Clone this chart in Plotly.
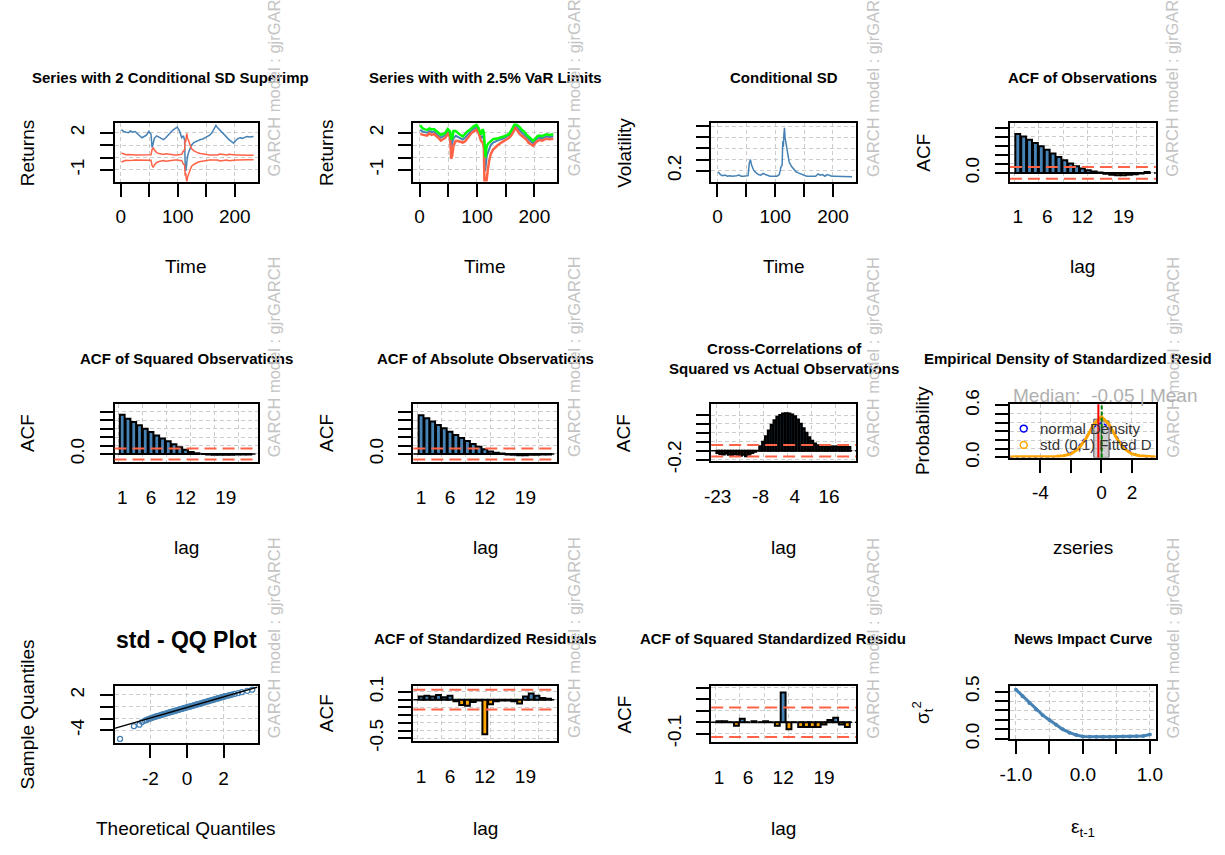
import plotly.graph_objects as go

# ======================= DATA =======================
time_idx = [1, 5, 9, 13, 17, 21, 25, 29, 33, 37,
            41, 45, 49, 53, 55, 57, 59, 63, 67, 71,
            75, 79, 83, 87, 91, 95, 99, 103, 107, 110,
            112, 113, 114, 115, 116, 117, 119, 121, 124, 128,
            132, 136, 140, 144, 148, 152, 156, 160, 164, 167,
            170, 174, 178, 182, 186, 190, 194, 198, 202, 206,
            210, 214, 218, 222, 226, 230, 233]
returns = [2.25, 2.1, 2.05, 2.0, 2.15, 2.05, 2.1, 1.95, 1.8, 1.6,
           1.7, 1.8, 2.1, 1.9, 0.8, 1.1, 1.55, 1.75, 1.65, 1.55,
           1.45, 1.6, 1.85, 2.0, 2.2, 2.35, 2.45, 2.15, 1.6, 1.75,
           1.4, -0.6, -1.1, -0.8, -0.2, 0.1, 0.4, 0.7, 1.0, 1.2,
           1.3, 1.35, 1.45, 1.5, 1.6, 1.7, 1.8, 2.0, 2.3, 2.6,
           2.4, 2.2, 2.0, 1.85, 1.65, 1.45, 1.3, 1.15, 1.4, 1.55,
           1.6, 1.55, 1.65, 1.7, 1.65, 1.7, 1.7]
sd2_upper = [0.36, 0.26, 0.22, 0.24, 0.2, 0.22, 0.2, 0.2, 0.22, 0.24,
             0.2, 0.2, 0.2, 0.22, 0.66, 0.8, 0.6, 0.4, 0.32, 0.26,
             0.24, 0.3, 0.26, 0.22, 0.2, 0.2, 0.2, 0.2, 0.26, 0.54,
             0.6, 1.46, 1.26, 1.7, 1.94, 1.6, 1.36, 1.0, 0.72, 0.56,
             0.44, 0.36, 0.32, 0.28, 0.24, 0.22, 0.2, 0.2, 0.2, 0.22,
             0.2, 0.28, 0.24, 0.26, 0.2, 0.26, 0.22, 0.2, 0.2, 0.2,
             0.18, 0.18, 0.18, 0.18, 0.18, 0.18, 0.18]
sd2_lower = [-0.36, -0.26, -0.22, -0.24, -0.2, -0.22, -0.2, -0.2, -0.22, -0.24,
             -0.2, -0.2, -0.2, -0.22, -0.66, -0.8, -0.6, -0.4, -0.32, -0.26,
             -0.24, -0.3, -0.26, -0.22, -0.2, -0.2, -0.2, -0.2, -0.26, -0.54,
             -0.6, -1.46, -1.26, -1.7, -1.94, -1.6, -1.36, -1.0, -0.72, -0.56,
             -0.44, -0.36, -0.32, -0.28, -0.24, -0.22, -0.2, -0.2, -0.2, -0.22,
             -0.2, -0.28, -0.24, -0.26, -0.2, -0.26, -0.22, -0.2, -0.2, -0.2,
             -0.18, -0.18, -0.18, -0.18, -0.18, -0.18, -0.18]
var_upper = [2.6, 2.36, 2.27, 2.24, 2.35, 2.27, 2.3, 2.15, 2.02, 1.84,
             1.9, 2.0, 2.3, 2.12, 1.46, 1.6, 2.15, 2.15, 1.97, 1.81,
             1.69, 1.9, 2.11, 2.22, 2.4, 2.55, 2.65, 2.35, 1.86, 2.29,
             2.0, 0.9, 0.1, 0.0, 0.6, 0.9, 1.1, 1.2, 1.35, 1.48,
             1.52, 1.53, 1.61, 1.64, 1.72, 1.81, 1.9, 2.2, 2.5, 2.82,
             2.6, 2.48, 2.24, 2.11, 1.85, 1.71, 1.52, 1.35, 1.6, 1.75,
             1.78, 1.73, 1.83, 1.88, 1.83, 1.88, 1.88]
var_lower = [1.89, 1.84, 1.83, 1.76, 1.95, 1.83, 1.9, 1.75, 1.58, 1.36,
             1.5, 1.6, 1.9, 1.68, -0.1, 0.2, 0.95, 1.35, 1.33, 1.29,
             1.21, 1.3, 1.59, 1.78, 2.0, 2.15, 2.25, 1.95, 1.34, 1.21,
             0.8, -2.1, -2.4, -2.5, -2.1, -1.5, -0.96, -0.3, 0.28, 0.64,
             0.86, 0.99, 1.13, 1.22, 1.36, 1.48, 1.6, 1.8, 2.1, 2.38,
             2.2, 1.92, 1.76, 1.59, 1.45, 1.19, 1.08, 0.95, 1.2, 1.35,
             1.42, 1.37, 1.47, 1.52, 1.47, 1.52, 1.52]
cond_sd = [0.18, 0.13, 0.11, 0.12, 0.1, 0.11, 0.1, 0.1, 0.11, 0.12,
           0.1, 0.1, 0.1, 0.11, 0.33, 0.4, 0.3, 0.2, 0.16, 0.13,
           0.12, 0.15, 0.13, 0.11, 0.1, 0.1, 0.1, 0.1, 0.13, 0.27,
           0.3, 0.73, 0.63, 0.85, 0.97, 0.8, 0.68, 0.5, 0.36, 0.28,
           0.22, 0.18, 0.16, 0.14, 0.12, 0.11, 0.1, 0.1, 0.1, 0.11,
           0.1, 0.14, 0.12, 0.13, 0.1, 0.13, 0.11, 0.1, 0.1, 0.1,
           0.09, 0.09, 0.09, 0.09, 0.09, 0.09, 0.09]

acf_lags = list(range(1, 24))
acf_obs = [0.86, 0.80, 0.73, 0.66, 0.59, 0.51, 0.43, 0.35, 0.28, 0.21, 0.15, 0.10,
           0.06, 0.03, 0.01, -0.02, -0.04, -0.05, -0.05, -0.04, -0.03, -0.01, 0.02]
acf_sq = [0.93, 0.84, 0.76, 0.68, 0.60, 0.52, 0.44, 0.37, 0.30, 0.23, 0.16, 0.10,
          0.05, 0.02, 0.0, -0.01, -0.02, -0.02, -0.02, -0.02, -0.01, -0.01, -0.01]
acf_abs = [0.92, 0.85, 0.77, 0.69, 0.61, 0.53, 0.45, 0.38, 0.31, 0.24, 0.17, 0.11,
           0.06, 0.03, 0.01, -0.01, -0.02, -0.03, -0.03, -0.02, -0.02, -0.01, -0.01]
ccf_lags = list(range(-23, 24))
ccf_sq_actual = [-0.05, -0.07, -0.08, -0.06, -0.09, -0.10, -0.07, -0.09, -0.11, -0.09,
                 -0.12, -0.08, -0.05, -0.02, 0.0, 0.1, 0.2, 0.32, 0.45, 0.58,
                 0.68, 0.76, 0.80, 0.83, 0.84, 0.83, 0.81, 0.77, 0.70, 0.60,
                 0.50, 0.40, 0.30, 0.22, 0.16, 0.12, 0.10, 0.10, 0.10, 0.09,
                 0.09, 0.09, 0.09, 0.08, 0.08, 0.08, 0.08]
acf_std_resid = [0.04, 0.05, 0.04, 0.06, 0.03, 0.05, -0.02, -0.07, -0.08, -0.03, -0.01, -0.45,
                 -0.06, -0.02, -0.01, -0.01, -0.02, -0.05, 0.04, 0.08, 0.05, 0.02, 0.01]
acf_sq_std_resid = [0.01, 0.01, 0.0, -0.03, 0.03, 0.0, 0.01, 0.0, 0.01, 0.0, -0.03, 0.26,
                    -0.06, 0.0, -0.04, -0.04, -0.04, -0.04, -0.02, 0.02, 0.04, -0.02, -0.04]
conf_limit = 0.129

dens_x = [-6.0, -3.0, -2.5, -2.0, -1.5, -1.0, -0.5, 0.0, 0.5, 1.0, 1.5, 2.0, 2.5, 3.0, 3.57]
normal_density = [0.0, 0.004, 0.018, 0.054, 0.13, 0.24, 0.35, 0.40, 0.35, 0.24, 0.13, 0.054, 0.018, 0.004, 0.001]
std_fitted_density = [0.006, 0.01, 0.02, 0.04, 0.10, 0.22, 0.38, 0.47, 0.38, 0.22, 0.10, 0.04, 0.02, 0.01, 0.006]
hist_mid = [-0.25, 0.25]
hist_density = [0.44, 0.42]
red_vline_x = -0.2
green_vline_x = 0.02

qq_theoretical = [-3.66, -2.9, -2.6, -2.45, -2.3, -2.2, -2.1, -2.0, -1.9, -1.8,
                  -1.72, -1.64, -1.56, -1.48, -1.4, -1.32, -1.24, -1.16, -1.08, -1.0,
                  -0.93, -0.86, -0.79, -0.72, -0.65, -0.58, -0.51, -0.44, -0.37, -0.3,
                  -0.23, -0.16, -0.09, -0.02, 0.05, 0.12, 0.19, 0.26, 0.33, 0.4,
                  0.47, 0.54, 0.61, 0.68, 0.75, 0.82, 0.89, 0.96, 1.04, 1.12,
                  1.2, 1.28, 1.36, 1.44, 1.52, 1.6, 1.68, 1.76, 1.84, 1.92,
                  2.0, 2.1, 2.2, 2.32, 2.45, 2.6, 2.8, 3.0, 3.3, 3.57]
qq_sample = [-5.46, -3.3, -3.05, -2.6, -2.35, -2.25, -2.1, -1.98, -1.88, -1.76,
             -1.7, -1.6, -1.55, -1.46, -1.4, -1.3, -1.24, -1.16, -1.08, -1.02,
             -0.95, -0.88, -0.82, -0.76, -0.7, -0.63, -0.57, -0.5, -0.44, -0.38,
             -0.31, -0.25, -0.19, -0.13, -0.06, 0.0, 0.06, 0.12, 0.19, 0.25,
             0.31, 0.38, 0.44, 0.5, 0.57, 0.63, 0.69, 0.76, 0.83, 0.9,
             0.97, 1.05, 1.12, 1.19, 1.26, 1.33, 1.41, 1.48, 1.55, 1.62,
             1.7, 1.78, 1.86, 1.95, 2.05, 2.18, 2.32, 2.48, 2.7, 2.9]
qq_line_x = [-3.96, 3.86]
qq_line_y = [-3.67, 3.33]

nic_eps = [-1.0, -0.9, -0.8, -0.7, -0.6, -0.5, -0.4, -0.3, -0.2, -0.1, 0.0,
           0.1, 0.2, 0.3, 0.4, 0.5, 0.6, 0.7, 0.8, 0.9, 1.0]
nic_sigma2 = [0.52, 0.45, 0.38, 0.31, 0.25, 0.20, 0.15, 0.10, 0.065, 0.04, 0.025,
              0.022, 0.022, 0.022, 0.022, 0.023, 0.024, 0.025, 0.027, 0.03, 0.045]

# tick values / labels
time_ticks = [0, 50, 100, 150, 200]
time_ticktext = ["0", "", "100", "", "200"]
ret_ticks = [-1, 0, 1, 2]
ret_ticktext = ["-1", "", "", "2"]
vol_ticks = [0.2, 0.4, 0.6, 0.8, 1.0]
vol_ticktext = ["0.2", "", "", "", ""]
lag_ticks = [1, 6, 12, 19]
lag_ticktext = ["1", "6", "12", "19"]
acf_ticks = [0.0, 0.2, 0.4, 0.6, 0.8, 1.0]
acf_ticktext = ["0.0", "", "", "", "", ""]
ccf_lag_ticks = [-23, -8, 4, 16]
ccf_lag_ticktext = ["-23", "-8", "4", "16"]
ccf_ticks = [-0.2, 0.0, 0.2, 0.4, 0.6, 0.8]
ccf_ticktext = ["-0.2", "", "", "", "", ""]
z_ticks = [-4, -2, 0, 2]
z_ticktext = ["-4", "", "0", "2"]
prob_ticks = [0.0, 0.1, 0.2, 0.3, 0.4, 0.5, 0.6]
prob_ticktext = ["0.0", "", "", "", "", "", "0.6"]
qqx_ticks = [-2, 0, 2]
qqx_ticktext = ["-2", "0", "2"]
qqy_ticks = [-4, -2, 0, 2]
qqy_ticktext = ["-4", "", "", "2"]
res_ticks = [-0.5, -0.4, -0.3, -0.2, -0.1, 0.0, 0.1]
res_ticktext = ["-0.5", "", "", "", "", "", "0.1"]
sqres_ticks = [-0.1, 0.0, 0.1, 0.2, 0.3]
sqres_ticktext = ["-0.1", "", "", "", ""]
nicx_ticks = [-1.0, -0.5, 0.0, 0.5, 1.0]
nicx_ticktext = ["-1.0", "", "0.0", "", "1.0"]
nicy_ticks = [0.0, 0.1, 0.2, 0.3, 0.4, 0.5]
nicy_ticktext = ["0.0", "", "", "", "", "0.5"]

# ======================= LAYOUT =======================
W, H = 1225, 855
FONT = "Liberation Sans, Arial, Helvetica, sans-serif"
STEEL = "#4682B4"
TOMATO = "#FF6347"
ORANGE = "#FFA500"
GRIDC = "#cccccc"
GRIDDASH = "4px,3px"

# plot boxes in pixels: left, right, top, bottom
BOXES = {
    1: (106, 251, 112, 172), 2: (409, 555, 112, 172), 3: (711, 858, 112, 172), 4: (1014, 1162, 112, 172),
    5: (106, 251, 402, 462), 6: (409, 555, 402, 462), 7: (711, 858, 402, 461), 8: (1014, 1162, 402, 457),
    9: (106, 251, 693, 752), 10: (409, 555, 693, 750), 11: (711, 858, 693, 751), 12: (1014, 1162, 693, 748),
}
LAG_RANGE = [-0.337, 24.503]
LAG_GRID = [0.417, 4.583, 8.75, 12.917, 17.083, 21.25]
CCF_RANGE = [-25.3, 25.46]
CCF_GRID = [-23.58, -15.25, -6.92, 1.42, 9.75, 18.08]

AXIS = dict(showline=True, linecolor="black", linewidth=2, mirror=True,
            ticks="outside", ticklen=13, tickwidth=2, tickcolor="black",
            tickfont=dict(size=19, color="black", family=FONT),
            showgrid=True, gridcolor=GRIDC, gridwidth=1, griddash=GRIDDASH,
            zeroline=False, fixedrange=True, layer="above traces")

layout = dict(width=W, height=H, margin=dict(l=0, r=0, t=0, b=0),
              paper_bgcolor="white", plot_bgcolor="white", showlegend=False,
              font=dict(family=FONT, color="black"), barmode="overlay")
traces = []
shapes = []
annotations = []


def sfx(i):
    return "" if i == 1 else str(i)


def set_axes(i, xr, yr, xt, xtt, yt, ytt, xgrid=None):
    l, r, t, b = BOXES[i]
    s = sfx(i)
    xa = dict(AXIS, domain=[l / W, r / W], range=xr, anchor="y" + s,
              tickmode="array", tickvals=xt, ticktext=xtt, ticklabelstandoff=4)
    ya = dict(AXIS, domain=[1 - b / H, 1 - t / H], range=yr, anchor="x" + s,
              tickmode="array", tickvals=yt, ticktext=ytt, tickangle=-90, ticklabelstandoff=8)
    if xgrid is not None:
        xa.update(tickcolor="rgba(0,0,0,0)", showgrid=False,
                  minor=dict(tickmode="array", tickvals=xgrid, showgrid=True, gridcolor=GRIDC,
                             griddash=GRIDDASH, gridwidth=1, ticks=""))
    layout["xaxis" + s] = xa
    layout["yaxis" + s] = ya


def line(i, x, y, color, width=1.5, dash="solid"):
    s = sfx(i)
    traces.append(go.Scatter(x=x, y=y, mode="lines", line=dict(color=color, width=width, dash=dash),
                             xaxis="x" + s, yaxis="y" + s, hoverinfo="skip"))


def bars(i, x, y, width, lw=2):
    s = sfx(i)
    cols = [STEEL if v >= 0 else ORANGE for v in y]
    traces.append(go.Bar(x=x, y=y, width=width, marker=dict(color=cols, line=dict(color="black", width=lw)),
                         xaxis="x" + s, yaxis="y" + s, hoverinfo="skip"))


def hline(i, y, color, dash, width=2):
    s = sfx(i)
    shapes.append(dict(type="line", xref="x" + s + " domain", x0=0, x1=1, yref="y" + s, y0=y, y1=y,
                       line=dict(color=color, width=width, dash=dash), layer="above"))


def vline(i, x, color, dash, width=2):
    s = sfx(i)
    shapes.append(dict(type="line", yref="y" + s + " domain", y0=0, y1=1, xref="x" + s, x0=x, x1=x,
                       line=dict(color=color, width=width, dash=dash), layer="above"))


def text(txt, x, y, size=19, color="black", bold=False, angle=0, xanchor="center", yanchor="middle"):
    annotations.append(dict(text=("<b>%s</b>" % txt) if bold else txt, x=x / W, y=1 - y / H,
                            xref="paper", yref="paper", showarrow=False, textangle=angle,
                            font=dict(size=size, color=color, family=FONT),
                            xanchor=xanchor, yanchor=yanchor))


def acf_panel(i, x, y, rng, grid, xt, xtt, yr, yt, ytt, lw=2):
    set_axes(i, rng, yr, xt, xtt, yt, ytt, xgrid=grid)
    bars(i, x, y, 0.833, lw)
    hline(i, conf_limit, TOMATO, "12px,6px")
    hline(i, -conf_limit, TOMATO, "12px,6px")
    hline(i, 0, "black", "5px,3px", 1.5)


# ---- panel 1
set_axes(1, [-11, 240], [-1.94, 2.75], time_ticks, time_ticktext, ret_ticks, ret_ticktext)
line(1, time_idx, returns, STEEL, 1.5)
line(1, time_idx, sd2_upper, TOMATO, 1.5)
line(1, time_idx, sd2_lower, TOMATO, 1.5)
# ---- panel 2
set_axes(2, [-11, 240], [-1.94, 2.75], time_ticks, time_ticktext, ret_ticks, ret_ticktext)
line(2, time_idx, returns, STEEL, 2)
line(2, time_idx, var_lower, TOMATO, 2.5)
line(2, time_idx, var_upper, "#00FF00", 2.5)
# ---- panel 3
set_axes(3, [-11, 240], [0.004, 1.05], time_ticks, time_ticktext, vol_ticks, vol_ticktext)
line(3, time_idx, cond_sd, STEEL, 1.5)
# ---- panels 4,5,6 ACF
acf_panel(4, acf_lags, acf_obs, LAG_RANGE, LAG_GRID, lag_ticks, lag_ticktext, [-0.19, 1.09], acf_ticks, acf_ticktext)
acf_panel(5, acf_lags, acf_sq, LAG_RANGE, LAG_GRID, lag_ticks, lag_ticktext, [-0.2, 1.18], acf_ticks, acf_ticktext)
acf_panel(6, acf_lags, acf_abs, LAG_RANGE, LAG_GRID, lag_ticks, lag_ticktext, [-0.2, 1.18], acf_ticks, acf_ticktext)
# ---- panel 7 CCF
acf_panel(7, ccf_lags, ccf_sq_actual, CCF_RANGE, CCF_GRID, ccf_lag_ticks, ccf_lag_ticktext, [-0.24, 1.04], ccf_ticks, ccf_ticktext, lw=2.2)
# ---- panel 8 density
set_axes(8, [-6.0, 3.57], [-0.002, 0.611], z_ticks, z_ticktext, prob_ticks, prob_ticktext)
traces.append(go.Bar(x=hist_mid, y=hist_density, width=0.5, marker=dict(color="rgba(170,170,170,0.55)",
                     line=dict(color="#555555", width=1)), xaxis="x8", yaxis="y8", hoverinfo="skip"))
line(8, dens_x, normal_density, "#0000FF", 1.5, "3px,3px")
line(8, dens_x, std_fitted_density, ORANGE, 3)
vline(8, red_vline_x, "#FF0000", "solid", 2)
vline(8, green_vline_x, "#008000", "4px,2px", 2)
# ---- panel 9 QQ
set_axes(9, [-3.96, 3.86], [-6.2, 3.5], qqx_ticks, qqx_ticktext, qqy_ticks, qqy_ticktext)
traces.append(go.Scatter(x=qq_theoretical, y=qq_sample, mode="markers",
                         marker=dict(symbol="circle-open", size=5, color=STEEL, line=dict(width=1.3, color=STEEL)),
                         xaxis="x9", yaxis="y9", hoverinfo="skip"))
line(9, qq_line_x, qq_line_y, "black", 1.5)
# ---- panels 10, 11
acf_panel(10, acf_lags, acf_std_resid, LAG_RANGE, LAG_GRID, lag_ticks, lag_ticktext, [-0.54, 0.175], res_ticks, res_ticktext)
acf_panel(11, acf_lags, acf_sq_std_resid, LAG_RANGE, LAG_GRID, lag_ticks, lag_ticktext, [-0.174, 0.315], sqres_ticks, sqres_ticktext)
# ---- panel 12 news impact
set_axes(12, [-1.09, 1.09], [-0.006, 0.558], nicx_ticks, nicx_ticktext, nicy_ticks, nicy_ticktext)
traces.append(go.Scatter(x=nic_eps, y=nic_sigma2, mode="lines+markers", line=dict(color=STEEL, width=3),
                         marker=dict(size=4, color=STEEL), xaxis="x12", yaxis="y12", hoverinfo="skip"))

# ---- titles
TS = 15
text("Series with 2 Conditional SD Superimp", 20, 65, TS, bold=True, xanchor="left")
text("Series with with 2.5% VaR Limits", 482, 65, TS, bold=True)
text("Conditional SD", 784.5, 65, TS, bold=True)
text("ACF of Observations", 1088, 65, TS, bold=True)
text("ACF of Squared Observations", 178.5, 355, TS, bold=True)
text("ACF of Absolute Observations", 482, 355, TS, bold=True)
text("Cross-Correlations of<br>Squared vs Actual Observations", 784.5, 355, TS, bold=True)
text("Empirical Density of Standardized Resid", 925, 355, TS, bold=True, xanchor="left")
text("std - QQ Plot", 179, 645, 23, bold=True)
text("ACF of Standardized Residuals", 482, 644, TS, bold=True)
text("ACF of Squared Standardized Residu", 637, 644, TS, bold=True, xanchor="left")
text("News Impact Curve", 1088, 644, TS, bold=True)

# ---- axis titles
xtitles = {1: "Time", 2: "Time", 3: "Time", 4: "lag", 5: "lag", 6: "lag", 7: "lag", 8: "zseries",
           9: "Theoretical Quantiles", 10: "lag", 11: "lag", 12: "ε<sub>t-1</sub>"}
ytitles = {1: "Returns", 2: "Returns", 3: "Volatility", 4: "ACF", 5: "ACF", 6: "ACF", 7: "ACF",
           8: "Probability", 9: "Sample Quantiles", 10: "ACF", 11: "ACF", 12: "σ<sub>t</sub><sup>2</sup>"}
row_title_y = {112: 260, 402: 550, 693: 840}
row_mark_y = {112: 169, 402: 459, 693: 749}
for i, (l, r, t, b) in BOXES.items():
    rt = [k for k in row_title_y if abs(k - t) < 5][0]
    text(xtitles[i], (l + r) / 2, row_title_y[rt], 19)
    text(ytitles[i], l - 88, (t + b) / 2, 19, angle=-90)
    text("GARCH model : gjrGARCH", r + 17, row_mark_y[rt], 16.5, color="#c4c4c4", angle=-90,
         xanchor="center", yanchor="bottom")

# ---- density panel extras
text("Median:&nbsp; -0.05 | Mean", 1015, 393, 19, color="#b0b0b0", xanchor="left")
text("normal Density", 1042, 427, 15, color="#333333", xanchor="left")
text("std (0,1) Fitted D", 1042, 444, 15, color="#333333", xanchor="left")
for (cy, col) in [(427, "#0000FF"), (444, ORANGE)]:
    shapes.append(dict(type="circle", xref="paper", yref="paper", x0=1024.5 / W, x1=1031.5 / W,
                       y0=1 - (cy + 3.5) / H, y1=1 - (cy - 3.5) / H, line=dict(color=col, width=1.5)))

layout["shapes"] = shapes
layout["annotations"] = annotations
fig = go.Figure(data=traces, layout=layout)
fig.write_html("out.html", config={"displayModeBar": False},
               post_script="document.body.style.margin='0px';")
